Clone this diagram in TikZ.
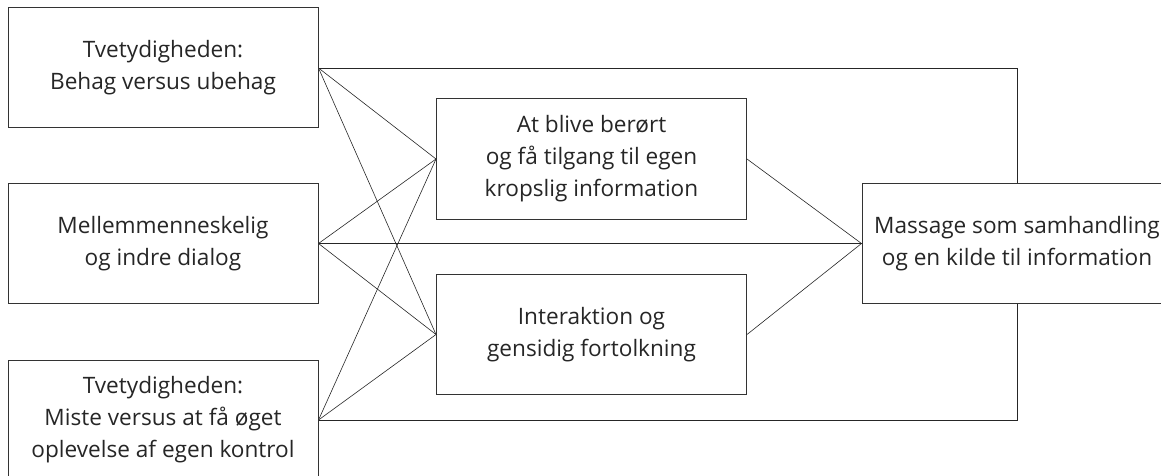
\documentclass[tikz,border=0pt]{standalone}
\usepackage{fontspec}
\setmainfont{Open Sans}
\usetikzlibrary{backgrounds}
\begin{document}
\begin{tikzpicture}[x=1pt,y=-1pt,
  box/.style={draw=black!80, line width=1pt, fill=white, minimum width=310pt,
    minimum height=120pt, align=center, inner sep=0pt, text=black!85,
    font=\fontsize{22.6}{32}\selectfont},
  conn/.style={draw=black!85, line width=0.6pt}]
\useasboundingbox (0,0) rectangle (1161,476);
\clip (0,0) rectangle (1161,476);
\node[box] (b1) at (163,68) {Tvetydigheden:\\Behag versus ubehag};
\node[box] (b2) at (163,243.5) {Mellemmenneskelig\\og indre dialog};
\node[box] (b3) at (163,420) {Tvetydigheden:\\Miste versus at få øget\\oplevelse af egen kontrol};
\node[box] (m1) at (591.5,159) {At blive berørt\\og få tilgang til egen\\kropslig information};
\node[box] (m2) at (591.5,334.5) {Interaktion og\\gensidig fortolkning};
\node[box] (r) at (1017,243.5) {Massage som samhandling\\og en kilde til information};
\begin{pgfonlayer}{background}
\draw[conn] (b1.east) -- (m1.west);
\draw[conn] (b1.east) -- (m2.west);
\draw[conn] (b2.east) -- (m1.west);
\draw[conn] (b2.east) -- (m2.west);
\draw[conn] (b2.east) -- (r.west);
\draw[conn] (b3.east) -- (m1.west);
\draw[conn] (b3.east) -- (m2.west);
\draw[conn] (m1.east) -- (r.west);
\draw[conn] (m2.east) -- (r.west);
\draw[conn] (b1.east) -- (b1.east -| r.center) -- (b3.east -| r.center) -- (b3.east);
\end{pgfonlayer}
\end{tikzpicture}
\end{document}
